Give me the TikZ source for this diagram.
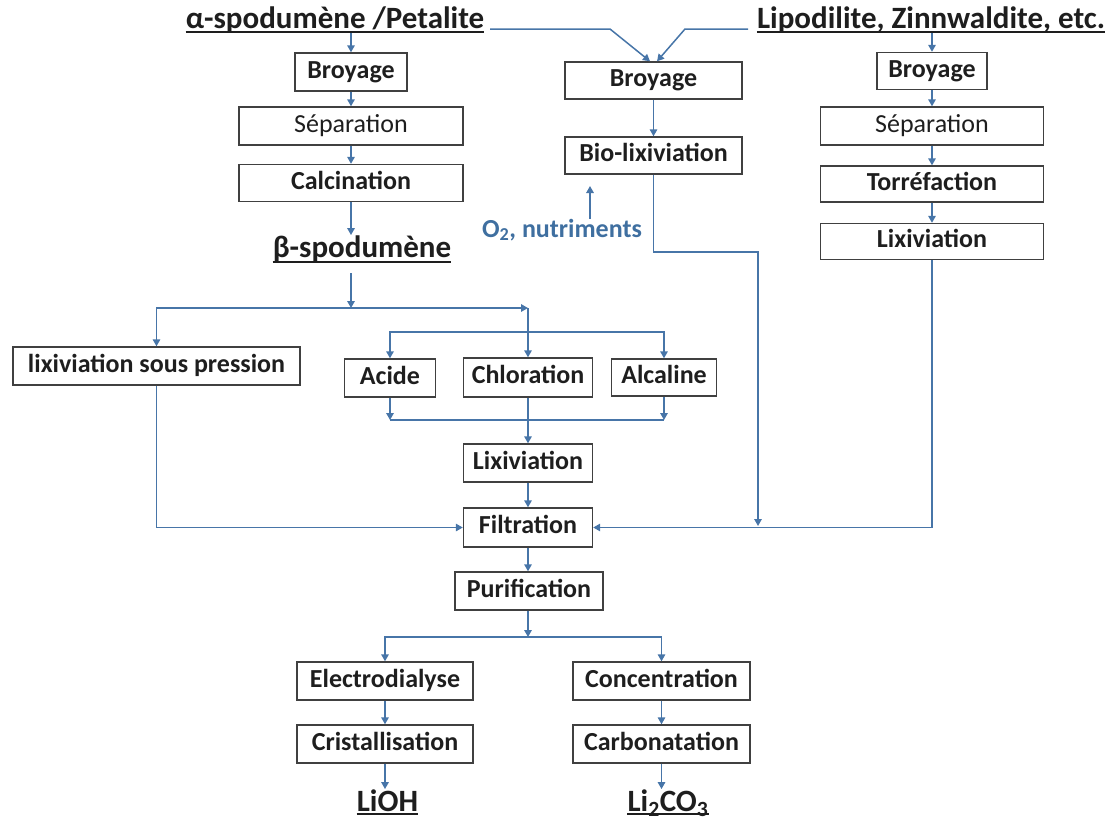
\documentclass[tikz,border=0pt]{standalone}
\usepackage{fontspec}
\setmainfont{Carlito}
\usetikzlibrary{arrows.meta}
\definecolor{lc}{HTML}{4775A8}
\definecolor{bc}{HTML}{404040}
\definecolor{tc}{HTML}{1E1E1E}
\definecolor{oc}{HTML}{3F6FA0}
\tikzset{
  box/.style={draw=bc, line width=1.4pt, inner sep=0pt, text=tc,
    font=\fontsize{26}{30}\selectfont\bfseries, text height=17pt, text depth=5pt},
  boxr/.style={box, font=\fontsize{26}{30}\selectfont},
  ttl/.style={inner sep=0pt, anchor=base, text=tc, font=\fontsize{31}{36}\selectfont\bfseries},
  ulin/.style={draw=tc, line width=1.8pt},
  arr/.style={draw=lc, line width=1.5pt, -{Triangle[length=7pt,width=7.5pt]}},
  ln/.style={draw=lc, line width=1.5pt}
}
\begin{document}
\begin{tikzpicture}[x=1pt,y=-1pt]
\useasboundingbox (0,0) rectangle (1116,825);
% titles
\node[ttl] (tA) at (335,28) {α-spodumène /Petalite};
\node[ttl] (tB) at (931,28) {Lipodilite, Zinnwaldite, etc.};
\draw[ulin] ([yshift=-4pt]tA.base west) -- ([yshift=-4pt]tA.base east);
\draw[ulin] ([yshift=-4pt]tB.base west) -- ([yshift=-4pt]tB.base east);
% left column
\node[box, minimum width=112pt, minimum height=38pt] (bL) at (351,72) {Broyage};
\node[boxr, minimum width=224pt, minimum height=38pt] (sL) at (351,126) {Séparation};
\node[box, minimum width=224pt, minimum height=37pt] (cL) at (351,183) {Calcination};
\node[ttl] (beta) at (362,257) {β-spodumène};
\draw[ulin] ([yshift=-5pt]beta.base west) -- ([yshift=-5pt]beta.base east);
% middle column
\node[box, minimum width=177pt, minimum height=37pt] (bM) at (653.5,80.5) {Broyage};
\node[box, minimum width=177pt, minimum height=37pt] (bio) at (653.5,155.5) {Bio-lixiviation};
\node[inner sep=0pt, anchor=base, text=oc, font=\fontsize{26}{30}\selectfont\bfseries] (o2) at (562,237) {O\textsubscript{2}, nutriments};
% right column
\node[box, minimum width=110pt, minimum height=37pt] (bR) at (932,71) {Broyage};
\node[boxr, minimum width=223pt, minimum height=38pt] (sR) at (932,126) {Séparation};
\node[box, minimum width=223pt, minimum height=36pt] (tR) at (932,184) {Torréfaction};
\node[box, minimum width=223pt, minimum height=36pt] (lR) at (932,241.5) {Lixiviation};
% middle part
\node[box, minimum width=287pt, minimum height=38pt] (lsp) at (156.5,366) {lixiviation sous pression};
\node[box, minimum width=91pt, minimum height=38pt] (aci) at (390,378) {Acide};
\node[box, minimum width=129pt, minimum height=39pt] (chl) at (528,377.5) {Chloration};
\node[box, minimum width=105pt, minimum height=37pt] (alc) at (664,377.5) {Alcaline};
\node[box, minimum width=129pt, minimum height=38pt] (lM) at (528,463) {Lixiviation};
\node[box, minimum width=129pt, minimum height=39pt] (fil) at (528,527.5) {Filtration};
\node[box, minimum width=148pt, minimum height=38pt] (pur) at (529,591) {Purification};
% bottom
\node[box, minimum width=176pt, minimum height=38pt] (ele) at (385,681) {Electrodialyse};
\node[box, minimum width=176pt, minimum height=38pt] (cri) at (385,744) {Cristallisation};
\node[box, minimum width=177pt, minimum height=38pt] (con) at (661.5,681) {Concentration};
\node[box, minimum width=177pt, minimum height=38pt] (car) at (661.5,744) {Carbonatation};
\node[ttl] (lioh) at (387.5,811) {LiOH};
\node[ttl] (lco) at (668,811) {Li\textsubscript{2}CO\textsubscript{3}};
\draw[ulin] ([yshift=-3pt]lioh.base west) -- ([yshift=-3pt]lioh.base east);
\draw[ulin] ([yshift=-3pt]lco.base west) -- ([yshift=-3pt]lco.base east);
% coordinates
\coordinate (m1) at (610,29);
\coordinate (m2) at (685,29);
\coordinate (pA) at (490,29);
\coordinate (pB) at (748,29);
\coordinate (b1) at (351,273);
\coordinate (s1) at (351,308);
\coordinate (j1) at (528,308);
\coordinate (j2) at (528,332);
\coordinate (j3) at (528,420);
\coordinate (k1) at (758,252);
\coordinate (j4) at (758,526);
\coordinate (o2t) at (590,186);
\coordinate (j5) at (528,637);
% top connectors
\draw[arr] (pA) -- (m1) -- ([xshift=-3.5pt]bM.north);
\draw[arr] (pB) -- (m2) -- ([xshift=3.5pt]bM.north);
\draw[arr] (tA.south -| bL.north) -- (bL.north);
\draw[arr] (tB.south -| bR.north) -- (bR.north);
% left column
\draw[arr] (bL.south) -- (sL.north);
\draw[arr] (sL.south) -- (cL.north);
\draw[arr] (cL.south) -- (cL.south |- beta.north);
\draw[arr] (b1) -- (s1);
\draw[arr] (s1) -| (lsp.north);
\draw[arr] (s1) -- (j1);
\draw[arr] (j1) -- (chl.north);
\draw[arr] (j2) -| (aci.north);
\draw[arr] (j2) -| (alc.north);
\draw[arr] (aci.south) -- (aci.south |- j3);
\draw[arr] (alc.south) -- (alc.south |- j3);
\draw[ln] (aci.south |- j3) -- (alc.south |- j3);
\draw[arr] (chl.south) -- (lM.north);
\draw[arr] (lM.south) -- (fil.north);
\draw[arr] (lsp.south) |- (fil.west);
% middle column
\draw[arr] (bM.south) -- (bio.north);
\draw[arr] (o2.north -| o2t) -- (o2t);
\draw[arr] (bio.south) |- (k1) -- (j4);
% right column
\draw[arr] (bR.south) -- (sR.north);
\draw[arr] (sR.south) -- (tR.north);
\draw[arr] (tR.south) -- (lR.north);
\draw[arr] (lR.south) |- (fil.east);
% bottom
\draw[arr] (fil.south) -- (fil.south |- pur.north);
\draw[arr] (fil.south |- pur.south) -- (j5);
\draw[arr] (j5) -| (ele.north);
\draw[arr] (j5) -| (con.north);
\draw[arr] (ele.south) -- (cri.north);
\draw[arr] (con.south) -- (car.north);
\draw[arr] (cri.south) -- (cri.south |- lioh.north);
\draw[arr] (car.south) -- (car.south |- lco.north);
\end{tikzpicture}
\end{document}
